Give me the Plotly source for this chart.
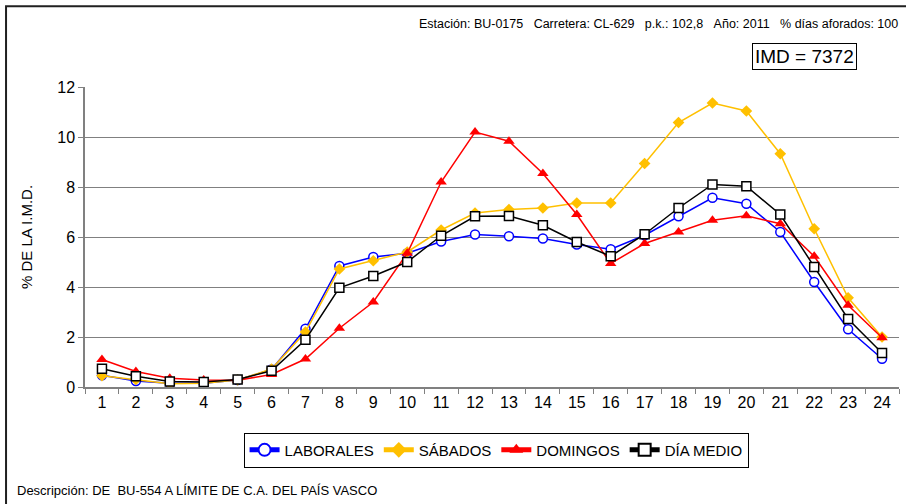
import plotly.graph_objects as go

hours = list(range(1, 25))
laborales = [0.47, 0.24, 0.15, 0.15, 0.28, 0.70, 2.33, 4.84, 5.20, 5.35, 5.82, 6.10, 6.03, 5.94, 5.70, 5.51, 6.07, 6.83, 7.57, 7.33, 6.20, 4.20, 2.31, 1.13]
sabados = [0.45, 0.30, 0.13, 0.15, 0.28, 0.72, 2.20, 4.72, 5.05, 5.40, 6.28, 6.96, 7.10, 7.16, 7.36, 7.36, 8.94, 10.58, 11.36, 11.04, 9.33, 6.33, 3.57, 2.00]
domingos = [1.10, 0.62, 0.35, 0.28, 0.27, 0.50, 1.12, 2.35, 3.40, 5.35, 8.20, 10.20, 9.83, 8.54, 6.90, 4.94, 5.74, 6.20, 6.67, 6.85, 6.53, 5.23, 3.27, 1.97]
dia_medio = [0.73, 0.43, 0.22, 0.20, 0.30, 0.65, 1.89, 3.97, 4.44, 5.00, 6.05, 6.83, 6.84, 6.47, 5.80, 5.23, 6.11, 7.16, 8.10, 8.03, 6.90, 4.80, 2.72, 1.36]
y_ticks = [0, 2, 4, 6, 8, 10, 12]

header = "Estación: BU-0175\u00a0\u00a0\u00a0Carretera: CL-629\u00a0\u00a0\u00a0p.k.: 102,8\u00a0\u00a0\u00a0Año: 2011\u00a0\u00a0\u00a0% días aforados: 100"
imd_text = "IMD = 7372"
desc_text = "Descripción: DE\u00a0\u00a0BU-554 A LÍMITE DE C.A. DEL PAÍS VASCO"

FONT = "Liberation Sans, Arial, sans-serif"
NARROW = "Liberation Sans Narrow, Arial Narrow, Liberation Sans, sans-serif"

fig = go.Figure()
fig.add_trace(go.Scatter(x=hours, y=laborales, name="LABORALES", mode="lines+markers",
                         line=dict(color="#0000FF", width=1.5),
                         marker=dict(symbol="circle", size=9, color="white", line=dict(color="#0000FF", width=1.5))))
fig.add_trace(go.Scatter(x=hours, y=sabados, name="SÁBADOS", mode="lines+markers",
                         line=dict(color="#FFC000", width=1.5),
                         marker=dict(symbol="diamond", size=9, color="#FFC000", line=dict(width=0))))
fig.add_trace(go.Scatter(x=hours, y=domingos, name="DOMINGOS", mode="lines+markers",
                         line=dict(color="#FF0000", width=1.5),
                         marker=dict(symbol="triangle-up", size=10, color="#FF0000", line=dict(width=0))))
fig.add_trace(go.Scatter(x=hours, y=dia_medio, name="DÍA MEDIO", mode="lines+markers",
                         line=dict(color="#000000", width=1.5),
                         marker=dict(symbol="square", size=9, color="white", line=dict(color="#000000", width=1.5))))

fig.update_layout(
    width=906, height=504, autosize=False,
    paper_bgcolor="white", plot_bgcolor="white",
    margin=dict(l=85, r=7, t=87, b=117),
    font=dict(family=FONT, color="black"),
    showlegend=True,
    legend=dict(orientation="h", x=0.505, xanchor="center", y=-0.152, yanchor="top",
                bordercolor="black", borderwidth=1, bgcolor="white",
                font=dict(family=NARROW, size=15), itemwidth=30, tracegroupgap=0,
                itemsizing="constant"),
    xaxis=dict(range=[0.5, 24.5], tickvals=hours, ticktext=[str(h) for h in hours],
               ticks="", showgrid=False, zeroline=False, showline=True,
               linecolor="#808080", linewidth=1.5, tickfont=dict(size=16),
               minor=dict(tickvals=[h + 0.5 for h in range(0, 25)], ticks="outside",
                          ticklen=5, tickcolor="#808080", tickwidth=1, showgrid=False)),
    yaxis=dict(range=[0, 12], tickvals=y_ticks, ticks="outside", ticklen=5,
               tickcolor="#808080", showgrid=True, gridcolor="#808080", gridwidth=1,
               zeroline=False, showline=True, linecolor="#808080", linewidth=1.5,
               tickfont=dict(size=16),
               title=dict(text="% DE LA I.M.D.", font=dict(size=15), standoff=21)),
    shapes=[dict(type="rect", xref="paper", yref="paper",
                 x0=-0.097, x1=1.05, y0=-0.6, y1=1.269,
                 line=dict(color="#202020", width=2), fillcolor="rgba(0,0,0,0)", layer="below")],
    annotations=[
        dict(text=header, xref="paper", yref="paper", x=1.001, y=1.21, xanchor="right",
             yanchor="middle", showarrow=False, font=dict(size=12.5)),
        dict(text=imd_text, xref="paper", yref="paper", x=0.948, y=1.1, xanchor="right",
             yanchor="middle", showarrow=False, font=dict(size=19),
             bordercolor="black", borderwidth=1, borderpad=2, bgcolor="white"),
        dict(text=desc_text, xref="paper", yref="paper", x=-0.086, y=-0.344, xanchor="left",
             yanchor="middle", showarrow=False, font=dict(family=NARROW, size=13)),
    ],
)

fig.write_html("out.html", config={"displayModeBar": False},
               post_script="document.body.style.margin='0';document.body.style.overflow='hidden';")
